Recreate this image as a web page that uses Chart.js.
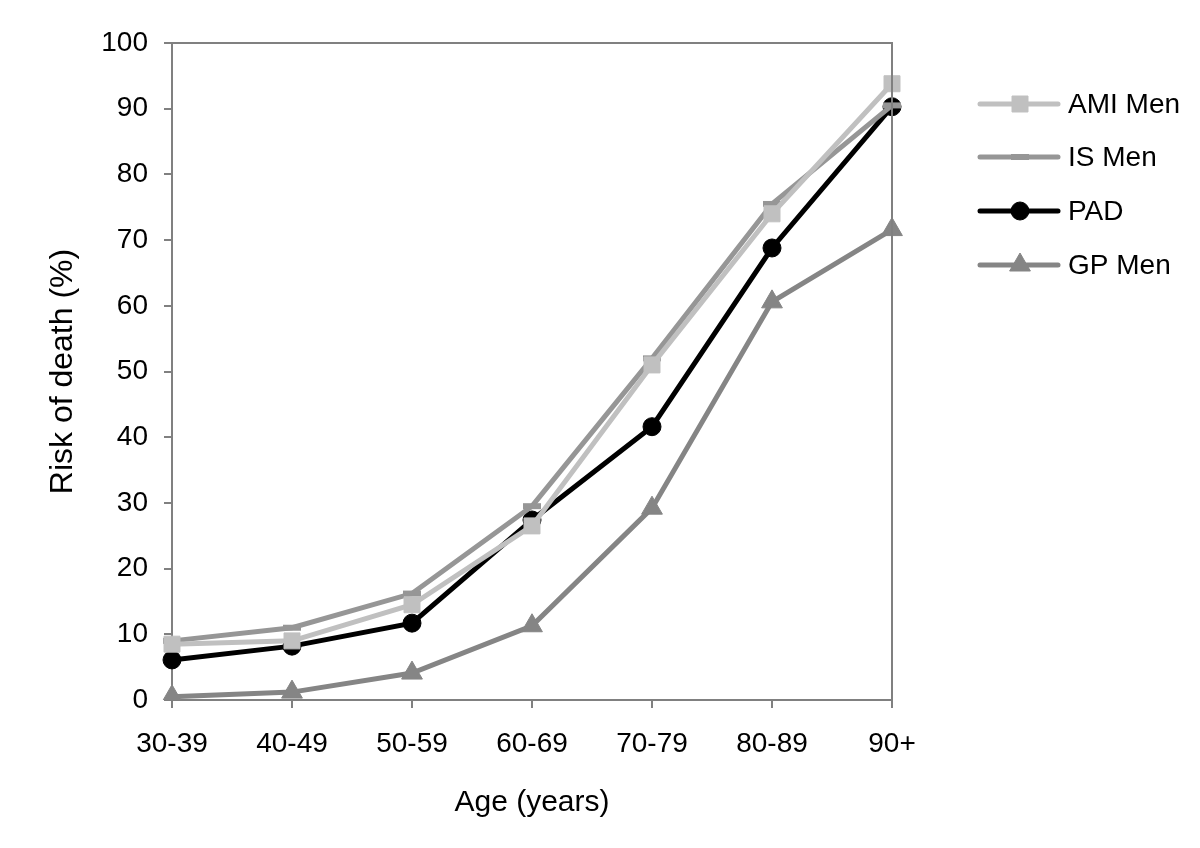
<!DOCTYPE html>
<html>
<head>
<meta charset="utf-8">
<script src="https://cdn.jsdelivr.net/npm/chart.js@4"></script>
<style>
html,body{margin:0;padding:0;background:#fff;}
#wrap{width:1200px;height:848px;}
</style>
</head>
<body>
<div id="wrap"><canvas id="c" width="1200" height="848"></canvas></div>
<script>
const categories = ["30-39","40-49","50-59","60-69","70-79","80-89","90+"];
const amiMen = [8.5, 9.0, 14.5, 26.5, 51.0, 74.0, 93.8];
const isMen  = [9.0, 11.0, 16.2, 29.5, 52.0, 75.5, 90.5];
const pad    = [6.1, 8.2, 11.7, 27.4, 41.6, 68.8, 90.3];
const gpMen  = [0.5, 1.2, 4.1, 11.3, 29.2, 60.6, 71.6];
const seriesNames = ["AMI Men","IS Men","PAD","GP Men"];
const yTicks = [0,10,20,30,40,50,60,70,80,90,100];

const FONT = "'Liberation Sans', Arial, sans-serif";
const AXIS = "#808080";

const L = 172, R = 892, T = 43, B = 700, W = 1200, H = 848;

const boxPlugin = {
  id: 'box',
  afterDraw(chart){
    const {ctx, chartArea:a} = chart;
    ctx.save();
    ctx.strokeStyle = AXIS;
    ctx.lineWidth = 2;
    ctx.beginPath();
    ctx.moveTo(a.left, a.top); ctx.lineTo(a.right, a.top); ctx.lineTo(a.right, a.bottom);
    ctx.stroke();
    ctx.restore();
  }
};

const legendPlugin = {
  id: 'customLegend',
  afterDraw(chart){
    const ctx = chart.ctx;
    const x0 = 980, x1 = 1058, tx = 1068;
    const ys = [104, 157, 211, 265];
    ctx.save();
    chart.data.datasets.forEach((ds, i) => {
      const y = ys[i];
      ctx.strokeStyle = ds.borderColor;
      ctx.lineWidth = ds.borderWidth;
      ctx.lineCap = 'round';
      ctx.beginPath(); ctx.moveTo(x0, y); ctx.lineTo(x1, y); ctx.stroke();
      ctx.lineCap = 'butt';
      ctx.fillStyle = ds.pointBackgroundColor;
      ctx.strokeStyle = ds.pointBorderColor;
      ctx.lineWidth = ds.pointBorderWidth || 1;
      Chart.helpers.drawPoint(ctx, {
        pointStyle: ds.pointStyle, radius: ds.pointRadius, rotation: 0,
        borderWidth: ds.pointBorderWidth || 1
      }, (x0 + x1) / 2 + 1, y);
      ctx.fillStyle = '#000';
      ctx.font = '28px ' + FONT;
      ctx.textBaseline = 'middle';
      ctx.textAlign = 'left';
      ctx.fillText(ds.label, tx, y + 1);
    });
    ctx.restore();
  }
};

function ds(label, data, color, style, radius, pbw){
  return {
    label, data,
    borderColor: color,
    backgroundColor: color,
    pointBackgroundColor: color,
    pointBorderColor: color,
    pointBorderWidth: pbw || 1,
    borderWidth: 5,
    pointStyle: style,
    pointRadius: radius,
    pointHoverRadius: radius,
    tension: 0,
    fill: false
  };
}

new Chart(document.getElementById('c'), {
  type: 'line',
  data: {
    labels: categories,
    datasets: [
      ds(seriesNames[0], amiMen, '#c0c0c0', 'rect', 11.3),
      ds(seriesNames[1], isMen, '#969696', 'line', 9, 6),
      ds(seriesNames[2], pad, '#000000', 'circle', 9),
      ds(seriesNames[3], gpMen, '#858585', 'triangle', 12)
    ]
  },
  options: {
    responsive: false,
    animation: false,
    devicePixelRatio: 1,
    layout: { padding: { top: T, right: W - R, bottom: 0, left: 0 } },
    plugins: { legend: { display: false }, tooltip: { enabled: false } },
    scales: {
      x: {
        type: 'category',
        offset: false,
        afterFit(s){ s.height = H - B; },
        grid: { drawOnChartArea: false, drawTicks: true, tickLength: 8, color: AXIS, lineWidth: 2 },
        border: { color: AXIS, width: 2 },
        ticks: { color: '#000', font: { family: FONT, size: 28 }, padding: 19, maxRotation: 0, autoSkip: false },
        title: { display: true, text: 'Age (years)', color: '#000', font: { family: FONT, size: 30 }, padding: { top: 0, bottom: 27 } }
      },
      y: {
        min: 0, max: 100,
        afterFit(s){ s.width = L; },
        afterBuildTicks(s){ s.ticks = yTicks.map(v => ({ value: v })); },
        grid: { drawOnChartArea: false, drawTicks: true, tickLength: 8, color: AXIS, lineWidth: 2 },
        border: { color: AXIS, width: 2 },
        ticks: { color: '#000', font: { family: FONT, size: 28 }, padding: 16 },
        title: { display: true, text: 'Risk of death (%)', color: '#000', font: { family: FONT, size: 32 }, padding: { top: 44, bottom: 0 } }
      }
    }
  },
  plugins: [boxPlugin, legendPlugin]
});
</script>
</body>
</html>
